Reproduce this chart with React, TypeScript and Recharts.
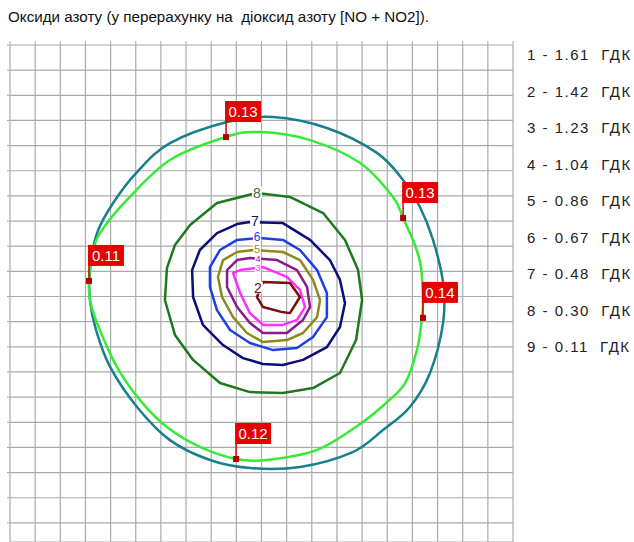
import { ComposedChart, Line, Scatter, XAxis, YAxis, CartesianGrid } from 'recharts';

const FONT = '"Liberation Sans", Arial, sans-serif';

const title = 'Оксиди азоту (у перерахунку на  діоксид азоту [NO + NO2]).';

const legendItems = [
  '1 - 1.61  ГДК',
  '2 - 1.42  ГДК',
  '3 - 1.23  ГДК',
  '4 - 1.04  ГДК',
  '5 - 0.86  ГДК',
  '6 - 0.67  ГДК',
  '7 - 0.48  ГДК',
  '8 - 0.30  ГДК',
  '9 - 0.11  ГДК',
];

// grid cells (x left->right, y top->bottom)
const xTicks = [0, 1, 2, 3, 4, 5, 6, 7, 8, 9, 10, 11, 12, 13, 14, 15, 16, 17, 18, 19, 20];
const yTicks = [0, 1, 2, 3, 4, 5, 6, 7, 8, 9, 10, 11, 12, 13, 14, 15, 16, 17, 18, 19];

// outer boundary (teal)
const boundary = [
  [10.46, 2.86], [12.6, 3.3], [14.59, 4.29], [15.63, 5.37], [16.3, 6.44], [16.82, 7.75],
  [17.22, 9.46], [17.22, 11.05], [16.7, 13.04], [15.9, 14.39], [14.83, 15.31], [13.6, 16.2],
  [11.53, 16.78], [9.54, 16.82], [7.95, 16.5], [6.36, 15.71], [5.05, 14.39], [3.98, 12.8],
  [3.42, 11.33], [3.18, 10.14], [3.18, 8.95], [3.46, 7.48], [4.1, 6.28], [5.05, 5.05],
  [6.36, 3.9], [8.63, 3.06],
];

// isoline 9 (bright green)
const iso9 = [
  [9.94, 3.46], [11.93, 3.78], [13.92, 4.69], [15.23, 6.04], [15.63, 6.88], [16.1, 7.95],
  [16.34, 8.83], [16.42, 10.14], [16.38, 10.85], [16.18, 12.13], [15.71, 13.44], [14.91, 14.27],
  [13.92, 15.07], [12.21, 16.1], [10.22, 16.5], [8.99, 16.46], [7.55, 15.98], [6.24, 15.19],
  [5.17, 14.12], [4.25, 12.8], [3.46, 11.05], [3.18, 10.14], [3.14, 9.38], [3.26, 8.35],
  [3.58, 7.48], [4.65, 6.16], [6.36, 4.57], [8.59, 3.66],
];

const iso8 = [
  [9.82, 5.88], [11.13, 6.04], [12.45, 6.68], [13.32, 7.75], [13.84, 8.95], [14.0, 10.14],
  [13.76, 11.73], [13.12, 13.04], [12.05, 13.64], [10.85, 13.84], [9.54, 13.8], [8.35, 13.44],
  [7.28, 12.52], [6.56, 11.53], [6.16, 10.14], [6.24, 8.87], [6.56, 7.95], [7.16, 7.16],
  [8.23, 6.28],
];

const iso7 = [
  [9.54, 7.04], [10.85, 7.08], [11.93, 7.75], [12.72, 8.55], [13.12, 9.34], [13.32, 10.26],
  [13.12, 11.21], [12.6, 12.01], [11.65, 12.52], [10.85, 12.72], [10.06, 12.68], [9.26, 12.45],
  [8.47, 11.93], [7.67, 11.13], [7.28, 10.02], [7.24, 8.95], [7.55, 8.15], [8.23, 7.48],
  [9.03, 7.12],
];

const iso6 = [
  [9.94, 7.67], [10.85, 7.75], [11.53, 8.15], [12.21, 8.95], [12.6, 9.86], [12.6, 10.82],
  [12.05, 11.61], [11.41, 12.05], [10.46, 12.13], [9.54, 11.85], [8.75, 11.33], [8.23, 10.54],
  [7.95, 9.62], [7.95, 8.83], [8.35, 8.15], [9.03, 7.75],
];

const iso5 = [
  [9.66, 8.15], [10.85, 8.23], [11.53, 8.55], [12.05, 9.34], [12.33, 10.14], [12.21, 10.82],
  [11.65, 11.45], [11.01, 11.73], [10.06, 11.81], [9.42, 11.45], [8.87, 10.82], [8.43, 10.02],
  [8.27, 9.22], [8.47, 8.55], [9.03, 8.23],
];

const iso4 = [
  [9.54, 8.47], [10.62, 8.55], [11.41, 8.95], [11.81, 9.62], [11.93, 10.42], [11.65, 10.93],
  [11.01, 11.45], [10.06, 11.45], [9.54, 11.05], [9.03, 10.42], [8.63, 9.62], [8.63, 8.95],
  [9.03, 8.55],
];

const iso3 = [
  [9.15, 8.95], [10.06, 8.83], [11.01, 9.22], [11.53, 9.74], [11.73, 10.42], [11.41, 10.93],
  [10.85, 11.13], [10.06, 11.13], [9.54, 10.66], [9.15, 9.86], [8.87, 9.07],
];

const iso2 = [
  [10.06, 9.42], [11.13, 9.46], [11.53, 10.02], [11.13, 10.66], [10.82, 10.62], [10.06, 10.42],
  [9.82, 10.02],
];

const contourLabels = [
  { x: 9.86, y: 8.87, t: '3', c: '#ff30ff', s: 9 },
  { x: 9.86, y: 8.51, t: '4', c: '#8a1a8a', s: 9 },
  { x: 9.82, y: 8.1, t: '5', c: '#8c8a1c', s: 11 },
  { x: 9.82, y: 7.62, t: '6', c: '#1f40e0', s: 12 },
  { x: 9.74, y: 7.0, t: '7', c: '#0c0c7a', s: 14 },
  { x: 9.82, y: 5.88, t: '8', c: '#3a6a3a', s: 14 },
  { x: 9.86, y: 9.66, t: '2', c: '#7a0c0c', s: 14 },
];

const pointValues = [
  { x: 8.59, y: 3.66, v: '0.13' },
  { x: 15.63, y: 6.88, v: '0.13' },
  { x: 3.14, y: 9.38, v: '0.11' },
  { x: 16.42, y: 10.85, v: '0.14' },
  { x: 8.99, y: 16.46, v: '0.12' },
];

// closed Catmull-Rom curve through every point (for the smooth outer isolines)
const smoothClosed = (context: any) => {
  let pts: number[][] = [];
  return {
    areaStart() {},
    areaEnd() {},
    lineStart() {
      pts = [];
    },
    point(x: number, y: number) {
      pts.push([+x, +y]);
    },
    lineEnd() {
      const n = pts.length;
      if (!n) return;
      context.moveTo(pts[0][0], pts[0][1]);
      for (let i = 0; i < n; i++) {
        const p0 = pts[(i - 1 + n) % n];
        const p1 = pts[i];
        const p2 = pts[(i + 1) % n];
        const p3 = pts[(i + 2) % n];
        context.bezierCurveTo(
          p1[0] + (p2[0] - p0[0]) / 6,
          p1[1] + (p2[1] - p0[1]) / 6,
          p2[0] - (p3[0] - p1[0]) / 6,
          p2[1] - (p3[1] - p1[1]) / 6,
          p2[0],
          p2[1],
        );
      }
      context.closePath();
    },
  };
};

const lines = [
  { name: 'boundary', pts: boundary, color: '#17808a', curve: smoothClosed },
  { name: 'iso9', pts: iso9, color: '#38ea38', curve: smoothClosed },
  { name: 'iso8', pts: iso8, color: '#1e781e', curve: 'linearClosed' },
  { name: 'iso7', pts: iso7, color: '#0c0c7a', curve: 'linearClosed' },
  { name: 'iso6', pts: iso6, color: '#1f40e0', curve: 'linearClosed' },
  { name: 'iso5', pts: iso5, color: '#8c8a1c', curve: 'linearClosed' },
  { name: 'iso4', pts: iso4, color: '#8a1a8a', curve: 'linearClosed' },
  { name: 'iso3', pts: iso3, color: '#ff30ff', curve: 'linearClosed' },
  { name: 'iso2', pts: iso2, color: '#7a0c0c', curve: 'linearClosed' },
];

const toRows = (pts: number[][]) => pts.map(([x, y]) => ({ x, y }));

const ContourLabel = (props: any) => {
  const { cx, cy, payload } = props;
  const s = payload.s;
  return (
    <g>
      <rect x={cx - s * 0.35} y={cy - s * 0.45} width={s * 0.7} height={s * 0.85} fill="#fff" />
      <text x={cx} y={cy + s * 0.36} textAnchor="middle" fontSize={s} fontFamily={FONT} fill={payload.c}>
        {payload.t}
      </text>
    </g>
  );
};

const Callout = (props: any) => {
  const { cx, cy, payload } = props;
  return (
    <g>
      <line x1={cx} y1={cy} x2={cx} y2={cy - 16} stroke="#e00000" strokeWidth={1.5} />
      <rect x={cx - 1} y={cy - 36} width={36} height={21} fill="#e60000" />
      <text x={cx + 17} y={cy - 20} textAnchor="middle" fontSize={15} fontFamily={FONT} fill="#fff">
        {payload.v}
      </text>
      <rect x={cx - 3} y={cy - 3} width={6} height={6} fill="#b00000" />
    </g>
  );
};

const blank = () => '';

export default function App() {
  return (
    <div style={{ position: 'absolute', left: 0, top: 0, width: 634, height: 542, background: '#fff', overflow: 'hidden' }}>
      <div style={{ position: 'absolute', left: 8, top: 8, fontFamily: FONT, fontSize: 15.2, color: '#111', whiteSpace: 'pre' }}>
        {title}
      </div>
      {legendItems.map((t, i) => (
        <div
          key={t}
          style={{
            position: 'absolute',
            left: 527,
            top: 46 + i * 36.5,
            fontFamily: FONT,
            fontSize: 15,
            letterSpacing: 1.5,
            color: '#222',
            whiteSpace: 'pre',
          }}
        >
          {t}
        </div>
      ))}
      <ComposedChart width={634} height={542} margin={{ top: 41, right: 121, bottom: 0, left: 7 }}>
        <CartesianGrid stroke="#aaaaaa" strokeWidth={1.2} />
        <XAxis
          type="number"
          dataKey="x"
          orientation="top"
          domain={[0, 20]}
          ticks={xTicks}
          interval={0}
          height={4}
          tickSize={4}
          tick={{ fontSize: 1 }}
          tickFormatter={blank}
          axisLine={false}
          tickLine={{ stroke: '#aaaaaa' }}
          allowDataOverflow
        />
        <YAxis
          type="number"
          dataKey="y"
          domain={[0, 19.76]}
          reversed
          ticks={yTicks}
          interval={0}
          width={3}
          tickSize={3}
          tick={{ fontSize: 1 }}
          tickFormatter={blank}
          axisLine={false}
          tickLine={{ stroke: '#aaaaaa' }}
          allowDataOverflow
        />
        {lines.map((l) => (
          <Line
            key={l.name}
            name={l.name}
            data={toRows(l.pts)}
            dataKey="y"
            type={l.curve as any}
            stroke={l.color}
            strokeWidth={2.5}
            strokeLinejoin="round"
            dot={false}
            activeDot={false}
            isAnimationActive={false}
          />
        ))}
        <Scatter name="labels" data={contourLabels} dataKey="y" shape={ContourLabel} isAnimationActive={false} />
        <Scatter name="values" data={pointValues} dataKey="y" shape={Callout} isAnimationActive={false} />
      </ComposedChart>
    </div>
  );
}
